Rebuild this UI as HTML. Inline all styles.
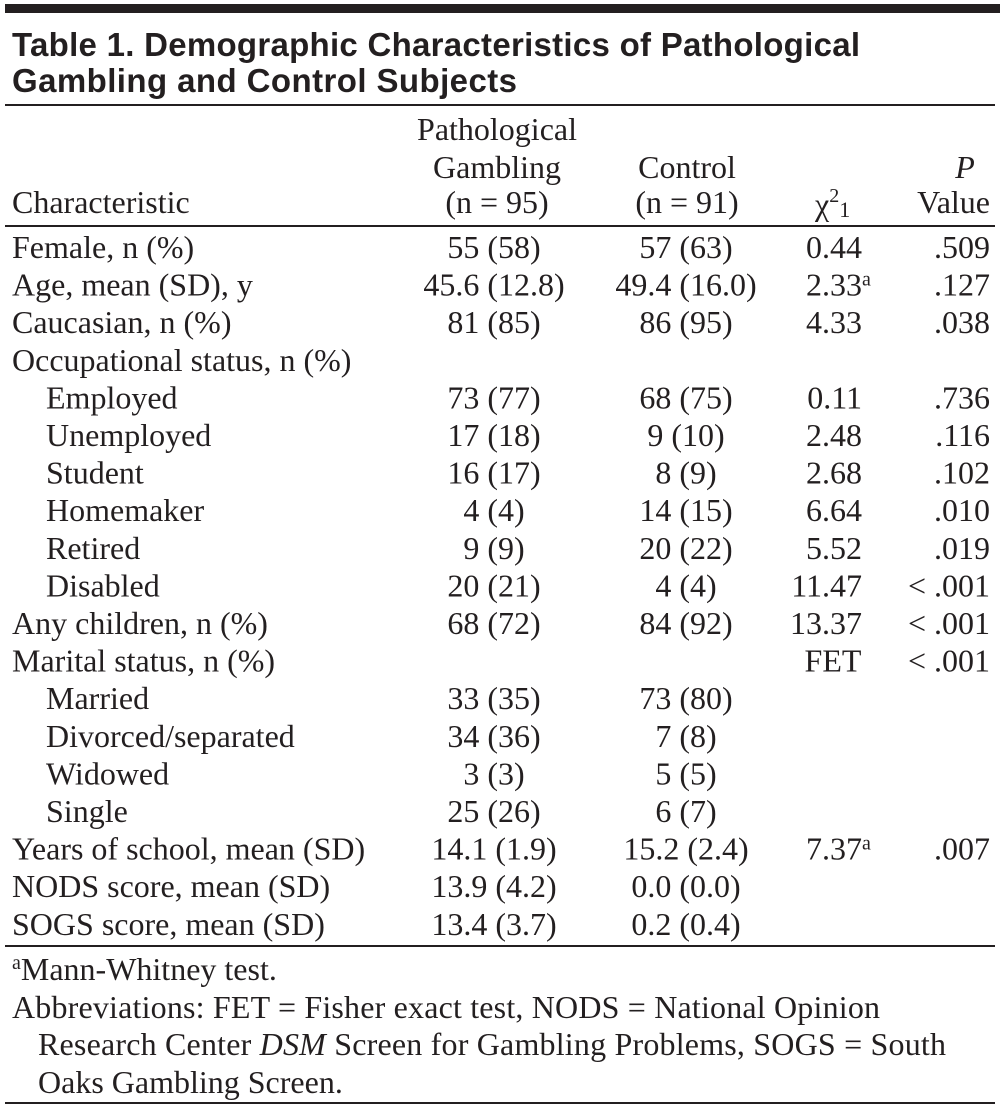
<!DOCTYPE html>
<html><head><meta charset="utf-8"><style>
html,body{margin:0;padding:0;background:#fff;}
svg{display:block;}
text{font-family:"Liberation Serif",serif;font-size:32px;fill:#231f20;}
.t{font-family:"Liberation Sans",sans-serif;font-weight:bold;font-size:33px;}
</style></head><body>
<svg id="tbl" width="1005" height="1109" viewBox="0 0 1005 1109">
<rect x="5" y="4" width="995" height="9" fill="#231f20"/>
<text class="t" x="12" y="56" textLength="848">Table 1. Demographic Characteristics of Pathological</text>
<text class="t" x="12" y="92" textLength="505">Gambling and Control Subjects</text>
<rect x="5" y="104" width="990" height="2" fill="#231f20"/>
<g>
<text x="12" y="213">Characteristic</text>
<text x="497" y="140" text-anchor="middle">Pathological</text>
<text x="497" y="178" text-anchor="middle">Gambling</text>
<text x="497" y="213" text-anchor="middle">(n = 95)</text>
<text x="687" y="178" text-anchor="middle">Control</text>
<text x="687" y="213" text-anchor="middle">(n = 91)</text>
<text x="815" y="215">χ<tspan font-size="20" dy="-13">2</tspan><tspan font-size="22" dy="15">1</tspan></text>
<text x="965" y="178" text-anchor="middle" font-style="italic">P</text>
<text x="990" y="213" text-anchor="end">Value</text>
</g>
<rect x="5" y="225" width="990" height="2" fill="#231f20"/>
<g id="rows"></g>
<rect x="5" y="945" width="990" height="2" fill="#231f20"/>
<text x="12" y="980"><tspan font-size="20" dy="-11">a</tspan><tspan dy="11">Mann-Whitney test.</tspan></text>
<text x="12" y="1018" textLength="868">Abbreviations: FET = Fisher exact test, NODS = National Opinion</text>
<text x="38" y="1055" textLength="908">Research Center <tspan font-style="italic">DSM</tspan> Screen for Gambling Problems, SOGS = South</text>
<text x="38" y="1093">Oaks Gambling Screen.</text>
<rect x="5" y="1102" width="990" height="2" fill="#231f20"/>
</svg>
<script>
const labels=["Female, n (%)","Age, mean (SD), y","Caucasian, n (%)","Occupational status, n (%)","Employed","Unemployed","Student","Homemaker","Retired","Disabled","Any children, n (%)","Marital status, n (%)","Married","Divorced/separated","Widowed","Single","Years of school, mean (SD)","NODS score, mean (SD)","SOGS score, mean (SD)"];
const indent=[0,0,0,0,1,1,1,1,1,1,0,0,1,1,1,1,0,0,0];
const pgVals=["55 (58)","45.6 (12.8)","81 (85)","","73 (77)","17 (18)","16 (17)","4 (4)","9 (9)","20 (21)","68 (72)","","33 (35)","34 (36)","3 (3)","25 (26)","14.1 (1.9)","13.9 (4.2)","13.4 (3.7)"];
const ctrlVals=["57 (63)","49.4 (16.0)","86 (95)","","68 (75)","9 (10)","8 (9)","14 (15)","20 (22)","4 (4)","84 (92)","","73 (80)","7 (8)","5 (5)","6 (7)","15.2 (2.4)","0.0 (0.0)","0.2 (0.4)"];
const chiVals=["0.44","2.33a","4.33","","0.11","2.48","2.68","6.64","5.52","11.47","13.37","FET","","","","","7.37a","",""];
const pVals=[".509",".127",".038","",".736",".116",".102",".010",".019","< .001","< .001","< .001","","","","",".007","",""];
const NS="http://www.w3.org/2000/svg";
const g=document.getElementById('rows');
function yOf(i){return 258+i*37.6;}
function mk(txt,x,y,anchor){
  const t=document.createElementNS(NS,'text');
  t.setAttribute('x',x);t.setAttribute('y',y);
  if(anchor)t.setAttribute('text-anchor',anchor);
  t.textContent=txt;g.appendChild(t);return t;
}
labels.forEach((lab,i)=>{
  const y=yOf(i);
  const a=mk(lab,indent[i]?46:12,y);
  
  
  if(pgVals[i]){const b=mk(pgVals[i],494,y,'middle');
    
    }
  if(ctrlVals[i]){const c=mk(ctrlVals[i],686,y,'middle');
    
    }
  const cv=chiVals[i];
  if(cv){
    let d;
    if(cv==="FET"){d=mk(cv,833,y,'middle');}
    else{
      const sup=cv.endsWith('a');
      d=mk(sup?cv.slice(0,-1):cv,862,y,'end');
      if(sup){const s=mk('a',862,y-10);s.style.fontSize='20px';
        
        }
    }
    
    
  }
  if(pVals[i]){const p=mk(pVals[i],990,y,'end');
    
    }
});
</script>
</body></html>
